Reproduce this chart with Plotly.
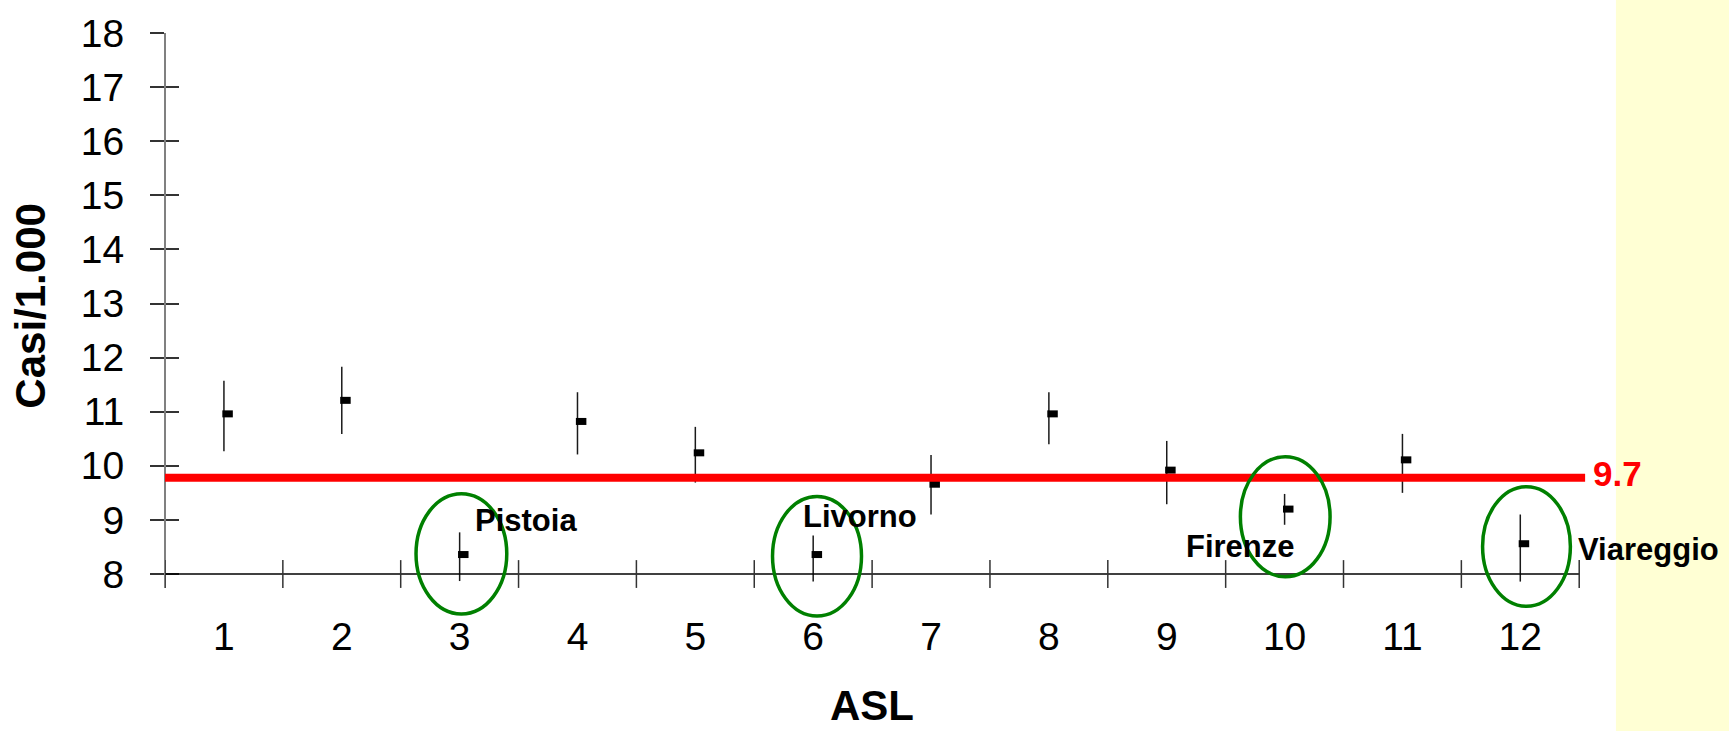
import plotly.graph_objects as go

# ---------------- data ----------------
asl = list(range(1, 13))
asl_labels = [str(a) for a in asl]
rate = [10.96, 11.21, 8.36, 10.82, 10.24, 8.36, 9.66, 10.96, 9.92, 9.20, 10.11, 8.56]
ci_upper = [11.57, 11.83, 8.77, 11.36, 10.72, 8.71, 10.20, 11.36, 10.46, 9.48, 10.59, 9.10]
ci_lower = [10.27, 10.59, 7.87, 10.21, 9.69, 7.86, 9.10, 10.40, 9.29, 8.91, 9.50, 7.86]
regional_rate = 9.78
regional_label = "9.7"
y_ticks = list(range(8, 19))
y_tick_labels = [str(v) for v in y_ticks]
highlight_names = ["Pistoia", "Livorno", "Firenze", "Viareggio"]
x_title = "ASL"
y_title = "Casi/1.000"

# ---------------- layout geometry (styles / positions) ----------------
FONT = "Liberation Sans, Arial, sans-serif"
Y_RANGE = [7.15, 18]
X_RANGE = [0.5, 12.6]
boundaries = [a - 0.5 for a in asl] + [asl[-1] + 0.5]
marker_offset = 0.031
tick_half = 0.257  # half length of crossing x ticks (data units)

# ellipse boxes (x0, x1, y0, y1) around highlighted ASL
ellipses = [
    (2.630, 3.400, 7.262, 9.484),
    (5.655, 6.410, 7.224, 9.434),
    (9.625, 10.386, 7.950, 10.168),
    (11.680, 12.425, 7.403, 9.614),
]
# label anchor points (x, y, xanchor, xshift) for the highlighted names
label_pos = [(3.563, 8.994, "center", 0), (6.396, 9.061, "center", 0),
             (9.629, 8.510, "center", 0), (12.5, 8.449, "left", -3)]

err_plus = [u - v for u, v in zip(ci_upper, rate)]
err_minus = [v - l for v, l in zip(rate, ci_lower)]

fig = go.Figure()

# confidence intervals (thin vertical lines)
fig.add_trace(go.Scatter(
    x=asl, y=rate, mode="markers",
    marker=dict(size=1, color="rgba(0,0,0,0)"),
    error_y=dict(type="data", symmetric=False, array=err_plus, arrayminus=err_minus,
                 width=0, thickness=1.5, color="#1a1a1a"),
    showlegend=False, hoverinfo="skip",
))
# point estimates (small dash markers)
fig.add_trace(go.Scatter(
    x=[a + marker_offset for a in asl], y=rate, mode="markers",
    marker=dict(symbol="line-ew", size=7.5, color="black", line=dict(width=7, color="black")),
    yaxis="y2", showlegend=False,
))

shapes = []
# pale yellow band at right edge
shapes.append(dict(type="rect", xref="paper", yref="paper", x0=1.0175, x1=1.3, y0=-0.4, y1=1.3,
                   fillcolor="#FFFFD4", line=dict(width=0), layer="below"))
# y axis line
shapes.append(dict(type="line", xref="paper", yref="y", x0=0, x1=0, y0=8 - tick_half, y1=18,
                   line=dict(color="#808080", width=2)))
# x axis line at y=8
shapes.append(dict(type="line", xref="x", yref="y", x0=boundaries[0], x1=boundaries[-1], y0=8, y1=8,
                   line=dict(color="black", width=1.3)))
# crossing x ticks at category boundaries
for b in boundaries:
    shapes.append(dict(type="line", xref="x", yref="y", x0=b, x1=b, y0=8 - tick_half, y1=8 + tick_half,
                       line=dict(color="#333333", width=1.5)))
# regional reference line
shapes.append(dict(type="line", xref="x", yref="y", x0=0.5, x1=12.55, y0=regional_rate, y1=regional_rate,
                   line=dict(color="#FF0000", width=8)))
# green ellipses
for (x0, x1, y0, y1) in ellipses:
    shapes.append(dict(type="circle", xref="x", yref="y", x0=x0, x1=x1, y0=y0, y1=y1,
                       line=dict(color="#008000", width=3.5), fillcolor="rgba(0,0,0,0)", layer="above"))

annotations = []
annotations.append(dict(text=y_title, xref="paper", yref="y", x=-0.094, y=12.96, textangle=-90,
                        showarrow=False, xanchor="center", yanchor="middle",
                        font=dict(family=FONT, size=42, color="black", weight="bold")))
annotations.append(dict(text=x_title, xref="x", yref="paper", x=6.5, y=-0.145,
                        showarrow=False, xanchor="center", yanchor="middle",
                        font=dict(family=FONT, size=42, color="black", weight="bold")))
annotations.append(dict(text=regional_label, xref="x", yref="y", x=12.6, y=9.85, showarrow=False,
                        xanchor="left", yanchor="middle",
                        font=dict(family=FONT, size=35, color="#FF0000", weight="bold")))
for name, (lx, ly, xa, xs) in zip(highlight_names, label_pos):
    annotations.append(dict(text=name, xref="x", yref="y", x=lx, y=ly, showarrow=False,
                            xanchor=xa, yanchor="middle", xshift=xs,
                            font=dict(family=FONT, size=31, color="black", weight="bold")))

fig.update_layout(
    width=1729, height=731,
    margin=dict(l=165, r=138, t=33, b=111, pad=0, autoexpand=False),
    paper_bgcolor="white", plot_bgcolor="rgba(0,0,0,0)",
    font=dict(family=FONT, color="black"),
    showlegend=False,
    xaxis=dict(range=X_RANGE, tickmode="array", tickvals=asl, ticktext=asl_labels,
               showgrid=False, zeroline=False, showline=False, ticks="", automargin=False,
               tickfont=dict(family=FONT, size=39, color="black"), ticklabelstandoff=-10),
    yaxis=dict(range=Y_RANGE, tickmode="array", tickvals=y_ticks, ticktext=y_tick_labels,
               ticks="outside", ticklen=14, tickwidth=1.5, tickcolor="#333333", automargin=False,
               showgrid=False, zeroline=False, showline=False,
               tickfont=dict(family=FONT, size=39, color="black"), ticklabelstandoff=18),
    yaxis2=dict(overlaying="y", side="left", range=Y_RANGE, tickmode="array", tickvals=y_ticks,
                ticks="inside", ticklen=14, tickwidth=1.5, tickcolor="#333333", automargin=False,
                showticklabels=False, showgrid=False, zeroline=False, showline=False),
    shapes=shapes,
    annotations=annotations,
)

fig.write_html("out.html")
